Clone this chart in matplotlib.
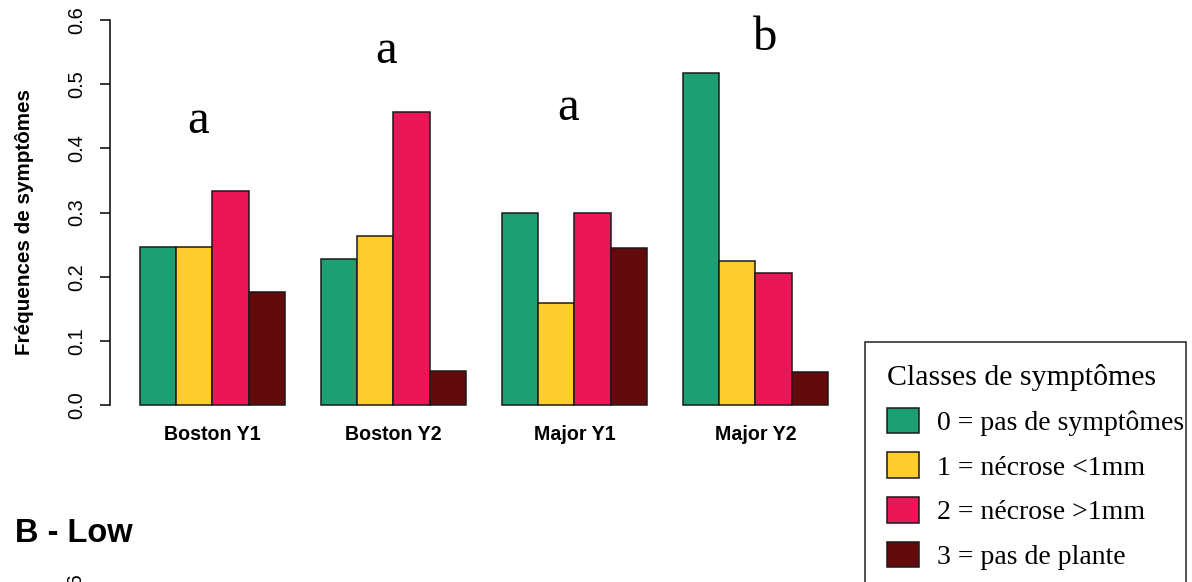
import matplotlib
matplotlib.use("Agg")
import matplotlib.pyplot as plt
from matplotlib.patches import Rectangle

groups = ["Boston Y1", "Boston Y2", "Major Y1", "Major Y2"]
classes = ["0 = pas de symptômes", "1 = nécrose <1mm", "2 = nécrose >1mm", "3 = pas de plante"]
class0 = [0.246, 0.228, 0.299, 0.518]
class1 = [0.246, 0.264, 0.159, 0.225]
class2 = [0.333, 0.456, 0.299, 0.206]
class3 = [0.176, 0.053, 0.245, 0.052]
series = [class0, class1, class2, class3]
colors = ["#1E9E73", "#FECC2F", "#EC1557", "#630A0C"]
yticks = [0.0, 0.1, 0.2, 0.3, 0.4, 0.5, 0.6]
letters = ["a", "a", "a", "b"]
letter_x = [2.60, 7.80, 12.82, 18.27]
letter_y = [0.424, 0.533, 0.444, 0.553]

W, H = 1192, 582
fig = plt.figure(figsize=(W / 100, H / 100), dpi=100)

x_unit = 36.2
x0 = 0.17
x1 = 20.8
px_left = 140 - (1 - x0) * x_unit
px_right = 140 + (x1 - 1) * x_unit
y_unit = 641.5
ylo, yhi = -0.024, 0.624
px_top = 405 - yhi * y_unit
px_bot = 405 - ylo * y_unit
ax = fig.add_axes([px_left / W, (H - px_bot) / H, (px_right - px_left) / W, (px_bot - px_top) / H])
ax.set_xlim(x0, x1)
ax.set_ylim(ylo, yhi)
ax.patch.set_alpha(0)

ngroups = len(groups)
for j, (vals, col, lab) in enumerate(zip(series, colors, classes)):
    xs = [1 + 5 * i + j for i in range(ngroups)]
    ax.bar(xs, vals, width=1, align="edge", color=col, edgecolor="#1a1a1a",
           linewidth=1.1, label=lab)

for sp in ["top", "right", "bottom"]:
    ax.spines[sp].set_visible(False)
ax.spines["left"].set_bounds(0, 0.6)
ax.spines["left"].set_linewidth(1.1)
ax.set_yticks(yticks)
ax.set_yticklabels([f"{v:.1f}" for v in yticks], family="Liberation Sans", fontsize=14.4)
ax.tick_params(axis="y", length=7.2, width=1.1, pad=10)
for t in ax.get_yticklabels():
    t.set_rotation(90)
    t.set_va("center")

ax.set_xticks([3 + 5 * i for i in range(ngroups)])
ax.set_xticklabels(groups, family="Liberation Sans", fontweight="bold", fontsize=14.1)
ax.tick_params(axis="x", length=0, pad=3)

for lx, ly, lt in zip(letter_x, letter_y, letters):
    ax.text(lx, ly, lt, family="Liberation Serif", fontsize=35, ha="center", va="baseline")

fig.text(25 / W, 1 - 222 / H, "Fréquences de symptômes", family="Liberation Sans",
         fontweight="bold", fontsize=14.9, rotation=90, ha="center", va="center")

fig.text(15 / W, 1 - 542 / H, "B - Low", family="Liberation Sans", fontweight="bold",
         fontsize=23.5, ha="left", va="baseline")
fig.text(76 / W, 1 - 573 / H, "0.6", family="Liberation Sans", fontsize=14.4,
         rotation=90, ha="center", va="top")

handles, labels = ax.get_legend_handles_labels()
leg = fig.legend(handles, labels, loc="upper left",
                 bbox_to_anchor=(865 / W, 1 - 342 / H),
                 frameon=False, title="Classes de symptômes",
                 prop={"family": "Liberation Serif", "size": 20},
                 title_fontproperties={"family": "Liberation Serif", "size": 21.5},
                 handlelength=1.15, handleheight=1.04, handletextpad=0.63,
                 labelspacing=0.59, borderpad=0.8, borderaxespad=0,
                 alignment="left")
fig.patches.append(Rectangle((865 / W, -0.05), (1186 - 865) / W, 1 - 342 / H + 0.05,
                             transform=fig.transFigure, fill=False,
                             edgecolor="#222222", linewidth=1.1))

fig.savefig("out.png", dpi=100)
